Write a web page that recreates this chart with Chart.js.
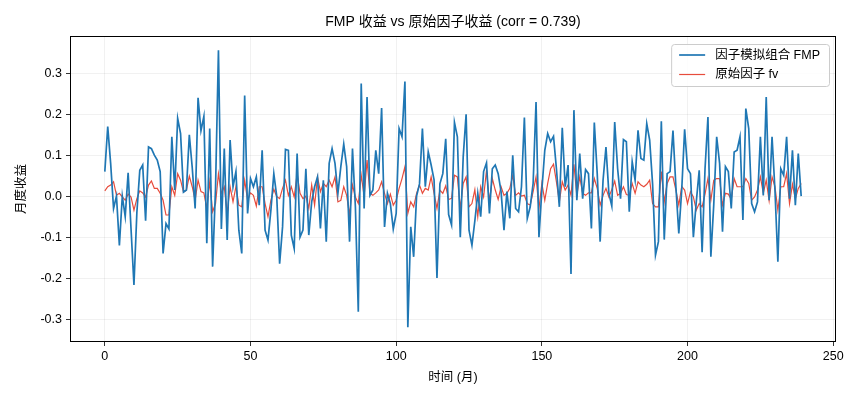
<!DOCTYPE html>
<html>
<head>
<meta charset="utf-8">
<script src="https://cdn.jsdelivr.net/npm/chart.js@4.4.1/dist/chart.umd.min.js"></script>
<style>
  html, body { margin: 0; padding: 0; background: #fff; }
  #wrap { width: 860px; height: 400px; }
</style>
</head>
<body>
<div id="wrap"><canvas id="chart" width="860" height="400"></canvas></div>
<script>
// month index 0..239
const months = Array.from({ length: 240 }, (_, i) => i);

// FMP (factor mimicking portfolio) monthly returns
const fmpReturns = [
  0.06, 0.17, 0.08, -0.03, 0.0, -0.12, 0.0, -0.05, 0.057, -0.08,
  -0.217, -0.04, 0.063, 0.076, -0.06, 0.12, 0.116, 0.10, 0.088, 0.06,
  -0.14, -0.067, -0.08, 0.145, 0.015, 0.19, 0.153, 0.01, 0.015, 0.15,
  0.07, -0.03, 0.24, 0.16, 0.195, -0.115, 0.165, -0.172, 0.02, 0.356,
  -0.08, 0.116, -0.107, 0.137, 0.023, 0.06, -0.083, -0.14, 0.246, -0.042,
  0.043, 0.023, 0.047, -0.022, 0.112, -0.083, -0.107, -0.034, 0.055, 0.0,
  -0.165, -0.075, 0.114, 0.112, -0.095, -0.128, 0.104, -0.1, -0.083, 0.067,
  -0.095, -0.014, 0.023, 0.047, -0.079, 0.039, -0.111, 0.08, 0.116, 0.08,
  0.007, 0.072, 0.127, 0.072, -0.111, 0.116, -0.026, -0.282, 0.275, -0.03,
  0.242, 0.002, 0.015, 0.112, 0.055, 0.215, -0.075, 0.007, -0.018, -0.08,
  -0.042, 0.165, 0.145, 0.28, -0.32, -0.075, -0.148, 0.0, 0.03, 0.165,
  0.023, 0.108, 0.076, 0.04, -0.2, 0.03, 0.055, 0.14, -0.045, -0.07,
  0.18, 0.145, -0.1, 0.096, 0.2, -0.083, -0.12, -0.06, 0.007, -0.05,
  0.06, 0.081, -0.042, 0.067, 0.076, 0.055, 0.011, -0.083, 0.011, -0.054,
  0.1, -0.03, -0.038, 0.023, 0.192, -0.054, -0.026, 0.031, 0.23, -0.1,
  0.015, 0.112, 0.153, 0.133, 0.146, 0.067, -0.026, 0.167, 0.023, 0.076,
  -0.19, 0.21, -0.01, 0.104, -0.006, 0.065, 0.055, -0.079, 0.18, 0.055,
  -0.111, 0.039, 0.12, 0.007, -0.024, 0.181, 0.067, -0.006, 0.138, 0.133,
  -0.038, 0.084, 0.039, 0.161, 0.092, 0.088, 0.177, 0.137, 0.03, -0.144,
  -0.111, 0.183, -0.106, 0.055, 0.06, 0.16, 0.023, -0.091, 0.015, 0.163,
  0.067, 0.055, -0.1, -0.014, 0.063, -0.137, 0.067, 0.193, -0.148, -0.02,
  0.145, 0.08, -0.087, 0.072, 0.06, -0.03, 0.108, 0.112, 0.145, -0.058,
  0.214, 0.165, -0.018, -0.038, -0.014, 0.145, 0.002, 0.242, -0.01, 0.145,
  0.015, -0.16, 0.067, 0.051, 0.145, -0.006, 0.112, -0.022, 0.104, 0.0
];

// raw factor fv monthly returns
const fvReturns = [
  0.013, 0.023, 0.027, 0.035, 0.002, 0.007, -0.002, -0.01, 0.005, -0.002,
  -0.034, -0.006, 0.013, 0.008, -0.002, 0.027, 0.037, 0.019, 0.019, 0.007,
  -0.01, -0.046, -0.046, 0.023, 0.002, 0.055, 0.039, 0.01, 0.015, 0.049,
  0.023, -0.01, 0.039, 0.011, 0.008, -0.03, 0.035, -0.038, -0.018, 0.055,
  0.007, 0.023, -0.042, 0.023, -0.014, 0.023, -0.022, -0.026, 0.039, -0.01,
  0.008, 0.002, -0.024, 0.023, 0.023, -0.018, -0.05, -0.01, 0.017, -0.001,
  -0.006, 0.019, 0.039, 0.002, 0.023, -0.002, 0.055, 0.007, -0.006, 0.0,
  -0.03, 0.027, -0.022, 0.047, 0.011, 0.031, 0.023, 0.039, 0.023, 0.047,
  -0.014, -0.01, 0.023, 0.002, -0.046, 0.027, -0.002, -0.018, 0.051, 0.0,
  0.088, 0.007, 0.002, 0.008, 0.015, 0.035, 0.007, -0.018, 0.005, -0.022,
  -0.01, 0.019, 0.043, 0.072, -0.042, -0.014, -0.026, 0.007, 0.027, 0.007,
  0.019, 0.015, 0.047, 0.007, -0.03, 0.015, 0.007, 0.025, -0.008, -0.005,
  0.051, 0.047, -0.03, 0.031, 0.047, -0.026, -0.018, 0.016, -0.05, 0.023,
  -0.002, 0.063, -0.014, 0.043, 0.015, -0.008, 0.023, 0.002, 0.007, 0.019,
  0.051, 0.002, 0.008, 0.0, 0.002, -0.018, -0.022, 0.011, 0.047, -0.03,
  0.031, -0.01, 0.031, 0.067, 0.078, 0.035, -0.014, 0.035, 0.015, 0.027,
  0.002, 0.078, 0.002, 0.047, 0.007, 0.002, 0.008, 0.008, 0.043, 0.019,
  -0.022, 0.002, 0.019, -0.002, 0.016, 0.037, 0.002, 0.007, 0.023, 0.004,
  0.002, 0.031, 0.007, 0.035, 0.027, 0.023, 0.029, 0.039, -0.018, -0.026,
  -0.026, 0.06, -0.014, 0.031, 0.047, 0.047, 0.015, -0.022, 0.024, 0.015,
  -0.018, 0.011, -0.002, -0.034, -0.018, -0.026, 0.005, 0.043, -0.01, 0.039,
  0.043, 0.043, -0.022, 0.007, 0.005, -0.008, 0.043, 0.023, 0.023, 0.023,
  0.043, 0.031, -0.01, -0.002, 0.015, 0.047, 0.007, 0.039, -0.011, 0.047,
  0.023, -0.034, 0.023, 0.023, 0.055, -0.018, 0.029, -0.006, 0.019, 0.031
];

const xTicks = [0, 50, 100, 150, 200, 250];
const yTicks = [-0.3, -0.2, -0.1, 0.0, 0.1, 0.2, 0.3];

const FONT = "'Liberation Sans', Arial, 'Noto Sans CJK SC', sans-serif";

// matplotlib-like frame (all four spines)
const framePlugin = {
  id: "frame",
  afterDatasetsDraw(chart) {
    const { ctx, chartArea: a } = chart;
    ctx.save();
    ctx.strokeStyle = "#000";
    ctx.lineWidth = 1;
    ctx.strokeRect(Math.round(a.left) + 0.5, Math.round(a.top) + 0.5,
      Math.round(a.right - a.left) - 1, Math.round(a.bottom - a.top) - 1);
    ctx.restore();
  },
};

// legend in the upper right corner, inside the axes
const cornerLegend = {
  id: "cornerLegend",
  afterDraw(chart) {
    const { ctx, chartArea: a } = chart;
    const sets = chart.data.datasets;
    ctx.save();
    ctx.font = "12.5px " + FONT;
    const textW = Math.max(...sets.map((d) => ctx.measureText(d.label).width));
    const w = 10 + 26 + 10 + textW + 7;
    const h = 42;
    const x0 = a.right - 7 - w;
    const y0 = a.top + 8;
    ctx.fillStyle = "rgba(255,255,255,0.8)";
    ctx.strokeStyle = "#cccccc";
    ctx.lineWidth = 1;
    ctx.beginPath();
    ctx.roundRect(x0 + 0.5, y0 + 0.5, w, h, 3);
    ctx.fill();
    ctx.stroke();
    sets.forEach((d, i) => {
      const y = y0 + 11 + i * 19.5;
      ctx.strokeStyle = d.borderColor;
      ctx.lineWidth = d.borderWidth;
      ctx.beginPath();
      ctx.moveTo(x0 + 8, y);
      ctx.lineTo(x0 + 34, y);
      ctx.stroke();
      ctx.fillStyle = "#000";
      ctx.textBaseline = "middle";
      ctx.fillText(d.label, x0 + 44, y + 0.5);
    });
    ctx.restore();
  },
};

const tickFont = { family: FONT, size: 12.5 };
const labelFont = { family: FONT, size: 12.5 };

new Chart(document.getElementById("chart"), {
  type: "line",
  data: {
    datasets: [
      {
        label: "因子模拟组合 FMP",
        data: months.map((m, i) => ({ x: m, y: fmpReturns[i] })),
        borderColor: "#1f77b4",
        borderWidth: 1.7,
      },
      {
        label: "原始因子 fv",
        data: months.map((m, i) => ({ x: m, y: fvReturns[i] })),
        borderColor: "#e74c3c",
        borderWidth: 1.2,
      },
    ],
  },
  options: {
    responsive: false,
    animation: false,
    devicePixelRatio: 1,
    elements: { point: { radius: 0 }, line: { tension: 0 } },
    layout: { padding: { left: 0, right: 24, top: 0, bottom: 0 } },
    plugins: {
      legend: { display: false },
      tooltip: { enabled: false },
      title: {
        display: true,
        fullSize: false,
        text: "FMP 收益 vs 原始因子收益 (corr = 0.739)",
        color: "#000",
        font: { family: FONT, size: 14, weight: "normal" },
        padding: { top: 13.6, bottom: 5.6 },
      },
    },
    scales: {
      x: {
        type: "linear",
        min: -11.95,
        max: 250.95,
        afterBuildTicks: (s) => { s.ticks = xTicks.map((v) => ({ value: v })); },
        afterFit: (s) => { s.height = 58; },
        border: { display: false },
        grid: { color: "rgba(0,0,0,0.07)", tickColor: "#000", tickLength: 4, lineWidth: 0.8 },
        ticks: { color: "#000", font: tickFont, padding: 3, maxRotation: 0, autoSkip: false, callback: (v) => String(v) },
        title: { display: true, text: "时间 (月)", color: "#000", font: labelFont, padding: { top: 0, bottom: 15 } },
      },
      y: {
        min: -0.356,
        max: 0.391,
        afterBuildTicks: (s) => { s.ticks = yTicks.map((v) => ({ value: v })); },
        afterFit: (s) => { s.width = 70; },
        border: { display: false },
        grid: { color: "rgba(0,0,0,0.07)", tickColor: "#000", tickLength: 4, lineWidth: 0.8 },
        ticks: { color: "#000", font: tickFont, padding: 4, autoSkip: false, callback: (v) => v.toFixed(1) },
        title: { display: true, text: "月度收益", color: "#000", font: labelFont, padding: { top: 14.5, bottom: 0 } },
      },
    },
  },
  plugins: [framePlugin, cornerLegend],
});
</script>
</body>
</html>
